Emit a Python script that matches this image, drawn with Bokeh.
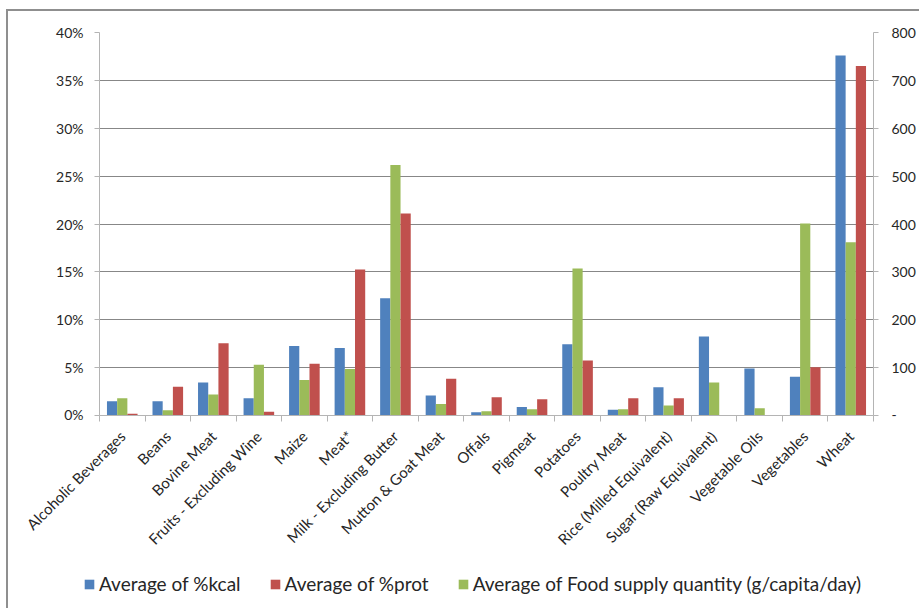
import numpy as np
from math import pi
from bokeh.plotting import figure
from bokeh.layouts import column
from bokeh.models import (Range1d, LinearAxis, FixedTicker, Legend, LegendItem,
                          ColumnDataSource)
from bokeh.core.properties import value
from bokeh.embed import file_html
from bokeh.resources import INLINE

# Average diet composition by commodity
categories = [
    "Alcoholic Beverages", "Beans", "Bovine Meat", "Fruits - Excluding Wine",
    "Maize", "Meat*", "Milk - Excluding Butter", "Mutton & Goat Meat",
    "Offals", "Pigmeat", "Potatoes", "Poultry Meat",
    "Rice (Milled Equivalent)", "Sugar (Raw Equivalent)", "Vegetable Oils",
    "Vegetables", "Wheat",
]
kcal_pct = [1.5, 1.5, 3.45, 1.8, 7.25, 7.05, 12.25, 2.1, 0.35, 0.9, 7.45,
            0.6, 2.95, 8.25, 4.9, 4.05, 37.6]
prot_pct = [0.18, 3.0, 7.55, 0.38, 5.4, 15.25, 21.1, 3.85, 1.9, 1.7, 5.75,
            1.8, 1.8, 0.0, 0.0, 5.05, 36.5]
food_supply = [36, 11, 44, 106, 74, 97, 523, 24, 9, 13, 307, 13, 21, 69, 15,
               401, 362]

pct_ticks = [0, 5, 10, 15, 20, 25, 30, 35, 40]
qty_ticks = [0, 100, 200, 300, 400, 500, 600, 700, 800]

FONT = "Lato"
TEXT = "#262626"
GRID = "#878787"
AXIS = "#b4b4b4"
BLUE, RED, GREEN = "#4F81BD", "#C0504D", "#9BBB59"

# layout (pixels)
W, H = 911, 597
LEFT, RIGHT, TOP, BOTTOM = 91, 46, 21, 7
FW, FH = W - LEFT - RIGHT, 383
MAIN_H = TOP + FH + BOTTOM
FOOT_H = H - MAIN_H

n = len(categories)
centers = np.arange(n) + 0.5
bw = 0.224

src = ColumnDataSource(dict(
    x_kcal=centers - bw,
    x_qty=centers,
    x_prot=centers + bw,
    kcal=kcal_pct,
    prot=prot_pct,
    qty=food_supply,
))

# ---- main chart -------------------------------------------------------
p = figure(
    width=W, height=MAIN_H, frame_width=FW, frame_height=FH,
    x_range=Range1d(0, n), y_range=Range1d(0, 40),
    output_backend="svg", toolbar_location=None,
    min_border_left=LEFT, min_border_right=RIGHT, min_border_top=TOP,
    min_border_bottom=BOTTOM,
)
p.frame_align = False
p.extra_y_ranges = {"qty": Range1d(0, 800)}
p.outline_line_color = None
p.border_fill_color = "white"

p.vbar(x="x_kcal", top="kcal", width=bw, source=src, fill_color=BLUE, line_color=None)
p.vbar(x="x_qty", top="qty", width=bw, source=src, fill_color=GREEN, line_color=None,
       y_range_name="qty")
p.vbar(x="x_prot", top="prot", width=bw, source=src, fill_color=RED, line_color=None)

yax = p.yaxis[0]
yax.ticker = FixedTicker(ticks=pct_ticks)
yax.major_label_overrides = {t: f"{t}%" for t in pct_ticks}
yax.major_label_standoff = 11

rax = LinearAxis(y_range_name="qty", ticker=FixedTicker(ticks=qty_ticks))
rax.major_label_overrides = {t: (" -" if t == 0 else str(t)) for t in qty_ticks}
rax.major_label_standoff = 13
p.add_layout(rax, "right")

for ax in (yax, rax):
    ax.major_tick_in = 0
    ax.major_tick_out = 5
    ax.minor_tick_line_color = None
    ax.major_tick_line_color = AXIS
    ax.axis_line_color = AXIS
    ax.major_label_text_font = FONT
    ax.major_label_text_font_size = "14px"
    ax.major_label_text_color = TEXT

# category axis: tick marks on the category boundaries
xax = p.xaxis[0]
xax.ticker = FixedTicker(ticks=[], minor_ticks=list(range(n + 1)))
xax.major_tick_out = 0
xax.minor_tick_in = 0
xax.minor_tick_out = 6
xax.minor_tick_line_color = AXIS
xax.axis_line_color = AXIS
xax.major_label_standoff = 0

p.xgrid.grid_line_color = None
p.ygrid.grid_line_color = GRID

# ---- footer: slanted category names and the legend --------------------
# same horizontal scale as the chart, widened to the full canvas
unit = FW / n
q = figure(
    width=W, height=FOOT_H, frame_width=W, frame_height=FOOT_H,
    x_range=Range1d(-LEFT / unit, n + RIGHT / unit), y_range=Range1d(-FOOT_H, 0),
    output_backend="svg", toolbar_location=None,
    min_border=0, x_axis_type=None, y_axis_type=None,
)
q.frame_align = False
q.outline_line_color = None
q.grid.visible = False
q.border_fill_color = "white"

q.text(x=centers, y=[-11] * n, text=categories, angle=pi / 4,
       text_align="right", text_baseline="middle",
       text_font=value(FONT), text_font_size="15px", text_color=TEXT)

swatch = dict(x=[np.nan], top=[np.nan], width=bw, line_color=None)
k_kcal = q.vbar(fill_color=BLUE, **swatch)
k_prot = q.vbar(fill_color=RED, **swatch)
k_qty = q.vbar(fill_color=GREEN, **swatch)

legend = Legend(
    items=[
        LegendItem(label="Average of %kcal", renderers=[k_kcal]),
        LegendItem(label="Average of %prot", renderers=[k_prot]),
        LegendItem(label="Average of Food supply quantity (g/capita/day)", renderers=[k_qty]),
    ],
    orientation="horizontal",
    location=(75, 13),
    border_line_color=None,
    background_fill_alpha=0,
    label_text_font=FONT,
    label_text_font_size="19px",
    label_text_color=TEXT,
    glyph_width=12, glyph_height=12,
    label_standoff=4, spacing=28, padding=0, margin=0,
)
q.add_layout(legend, "center")

page = column(p, q, spacing=0,
              styles={"margin-left": "6px", "margin-top": "9px",
                      "border-left": "2px solid #8f8f8f",
                      "border-top": "2px solid #8f8f8f"})

open("out.html", "w").write(file_html(page, INLINE))
